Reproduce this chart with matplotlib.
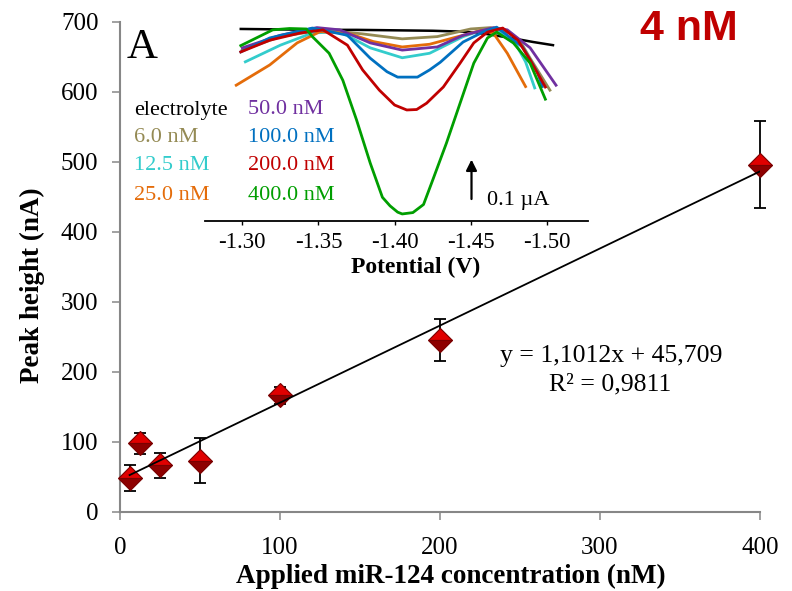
import numpy as np
import matplotlib.pyplot as plt

plt.rcParams['font.family'] = 'Liberation Serif'
plt.rcParams['axes.unicode_minus'] = False

# calibration data (main plot)
conc = [6, 12.5, 25, 50, 100, 200, 400]
peak = [48, 98, 66, 73, 166, 246, 496]
peak_err = [18, 15, 18, 32, 12, 30, 62]
slope = 1.1012
intercept = 45.709

# voltammograms (inset): potential in V, current in uA
v_el = [-1.299, -1.325, -1.350, -1.375, -1.400, -1.425, -1.445, -1.460, -1.478, -1.491, -1.504]
i_el = [-0.002, -0.003, -0.004, -0.004, -0.005, -0.006, -0.008, -0.013, -0.023, -0.031, -0.038]

v_6 = [-1.300, -1.325, -1.353, -1.379, -1.405, -1.428, -1.450, -1.463, -1.476, -1.4825, -1.489, -1.502]
i_6 = [-0.049, -0.019, -0.004, -0.013, -0.024, -0.019, -0.002, 0.001, -0.011, -0.030, -0.067, -0.138]

v_12 = [-1.302, -1.325, -1.346, -1.364, -1.384, -1.405, -1.423, -1.445, -1.458, -1.467, -1.480, -1.486, -1.492]
i_12 = [-0.075, -0.038, -0.011, -0.008, -0.044, -0.066, -0.056, -0.019, -0.004, -0.004, -0.038, -0.075, -0.133]

v_25 = [-1.296, -1.318, -1.336, -1.351, -1.369, -1.386, -1.405, -1.423, -1.445, -1.458, -1.465, -1.474, -1.486]
i_25 = [-0.127, -0.082, -0.033, -0.008, -0.011, -0.030, -0.042, -0.036, -0.016, -0.004, -0.012, -0.056, -0.130]

v_50 = [-1.300, -1.325, -1.349, -1.364, -1.384, -1.405, -1.428, -1.445, -1.465, -1.474, -1.489, -1.506]
i_50 = [-0.044, -0.016, 0.001, -0.004, -0.033, -0.049, -0.042, -0.016, 0.001, -0.004, -0.044, -0.127]

v_100 = [-1.299, -1.318, -1.346, -1.369, -1.384, -1.395, -1.402, -1.415, -1.423, -1.430, -1.445, -1.458,
         -1.467, -1.484, -1.494, -1.497]
i_100 = [-0.053, -0.022, 0.000, -0.016, -0.067, -0.097, -0.109, -0.109, -0.093, -0.076, -0.031, -0.009,
         0.002, -0.042, -0.100, -0.130]

v_200 = [-1.299, -1.318, -1.338, -1.353, -1.369, -1.379, -1.390, -1.400, -1.408, -1.4145, -1.421, -1.432,
         -1.443, -1.452, -1.461, -1.471, -1.481, -1.489, -1.499]
i_200 = [-0.053, -0.027, -0.011, -0.004, -0.038, -0.093, -0.138, -0.171, -0.182, -0.181, -0.167, -0.131,
         -0.078, -0.033, -0.009, 0.000, -0.027, -0.071, -0.131]

v_400 = [-1.299, -1.320, -1.331, -1.342, -1.346, -1.357, -1.366, -1.375, -1.384, -1.392, -1.397, -1.402,
         -1.405, -1.412, -1.419, -1.425, -1.434, -1.443, -1.452, -1.461, -1.467, -1.478, -1.489, -1.499]
i_400 = [-0.039, -0.004, -0.001, -0.002, -0.019, -0.056, -0.116, -0.204, -0.300, -0.376, -0.395, -0.409,
         -0.413, -0.410, -0.392, -0.338, -0.256, -0.167, -0.078, -0.022, -0.009, -0.033, -0.078, -0.158]

labels = ['electrolyte', '6.0 nM', '12.5 nM', '25.0 nM', '50.0 nM', '100.0 nM', '200.0 nM', '400.0 nM']
colours = ['#000000', '#948A54', '#33CCCC', '#E46C0A', '#7030A0', '#0070C0', '#C00000', '#009E00']
curves = [(v_el, i_el), (v_6, i_6), (v_12, i_12), (v_25, i_25),
          (v_50, i_50), (v_100, i_100), (v_200, i_200), (v_400, i_400)]

pot_ticks = [-1.30, -1.35, -1.40, -1.45, -1.50]

W, H = 792, 591


def fx(px):
    return px / W


def fy(py):
    return 1 - py / H


fig = plt.figure(figsize=(7.92, 5.91), dpi=100)

# main calibration plot
ax = fig.add_axes([fx(120), fy(511.7), fx(760) - fx(120), fy(21.7) - fy(511.7)])
ax.set_xlim(0, 400)
ax.set_ylim(0, 700)
ax.set_xticks(range(0, 401, 100))
ax.set_yticks(range(0, 701, 100))
for s in ['top', 'right']:
    ax.spines[s].set_visible(False)
for s in ['left', 'bottom']:
    ax.spines[s].set_color('#878787')
    ax.spines[s].set_linewidth(1.5)
ax.tick_params(direction='out', length=5.5, width=1.1, color='#878787', labelsize=18)
ax.tick_params(axis='x', pad=13)
ax.tick_params(axis='y', pad=10)

ax.errorbar(conc, peak, yerr=peak_err, fmt='none', ecolor='black', elinewidth=1.3,
            capsize=4.5, capthick=1.3, clip_on=False, zorder=3)
ax.plot(conc, peak, linestyle='none', marker='D', markersize=12, fillstyle='top',
        markerfacecolor='#E00000', markerfacecoloralt='#8E0000', markeredgecolor='#7A0000',
        markeredgewidth=0.8, clip_on=False, zorder=4)
fit_x = np.array([min(conc), max(conc)])
ax.plot(fit_x, slope * fit_x + intercept, color='black', lw=1.3, zorder=5)

fig.text(fx(451), fy(583), 'Applied miR-124 concentration (nM)', ha='center', va='baseline',
         fontsize=19.5, fontweight='bold')
fig.text(fx(32), fy(285), 'Peak height (nA)', ha='center', va='center', rotation=90,
         fontsize=19.5, fontweight='bold')

fig.text(fx(611), fy(361.7), 'y = 1,1012x + 45,709', ha='center', va='baseline', fontsize=18.5)
fig.text(fx(610), fy(390.7), 'R² = 0,9811', ha='center', va='baseline', fontsize=18.5)

fig.text(fx(127), fy(58), 'A', ha='left', va='baseline', fontsize=31)
fig.text(fx(640), fy(40), '4 nM', ha='left', va='baseline', fontsize=31,
         family='Liberation Sans', fontweight='bold', color='#C00000')

# inset voltammograms
ins = fig.add_axes([fx(205), fy(220.7), fx(588) - fx(205), fy(15) - fy(220.7)])
ins.patch.set_alpha(0)
ins.set_xlim(-1.2755, -1.527)
ins.set_ylim(-0.428, 0.029)
for s in ['top', 'right', 'left']:
    ins.spines[s].set_visible(False)
ins.spines['bottom'].set_linewidth(1.3)
ins.set_yticks([])
ins.set_xticks(pot_ticks)
ins.set_xticklabels([f'{t:.2f}' for t in pot_ticks])
ins.tick_params(axis='x', direction='out', length=3, width=1, labelsize=16.5, pad=5)

for (v, cur), c in zip(curves, colours):
    ins.plot(v, cur, color=c, lw=2 if c != '#000000' else 1.8, solid_joinstyle='round')

# scale bar
bar_x = -1.4505
bar_base = -0.386
bar_len = 0.1
ins.annotate('', xy=(bar_x, bar_base + bar_len), xytext=(bar_x, bar_base),
             arrowprops=dict(arrowstyle='-|>', color='black', lw=1.6, mutation_scale=16))
ins.text(-1.4608, -0.393, '0.1 µA', ha='left', va='baseline', fontsize=16)

fig.text(fx(416), fy(273.3), 'Potential (V)', ha='center', va='baseline', fontsize=17, fontweight='bold')

# inset legend as coloured text, two columns
col_x = [134, 248.3]
row_y = [114.5, 142, 170.5, 199.5]
for k, (lab, c) in enumerate(zip(labels, colours)):
    fig.text(fx(col_x[k // 4]), fy(row_y[k % 4]), lab, color=c, ha='left', va='baseline', fontsize=16)

fig.savefig('out.png', dpi=100)
